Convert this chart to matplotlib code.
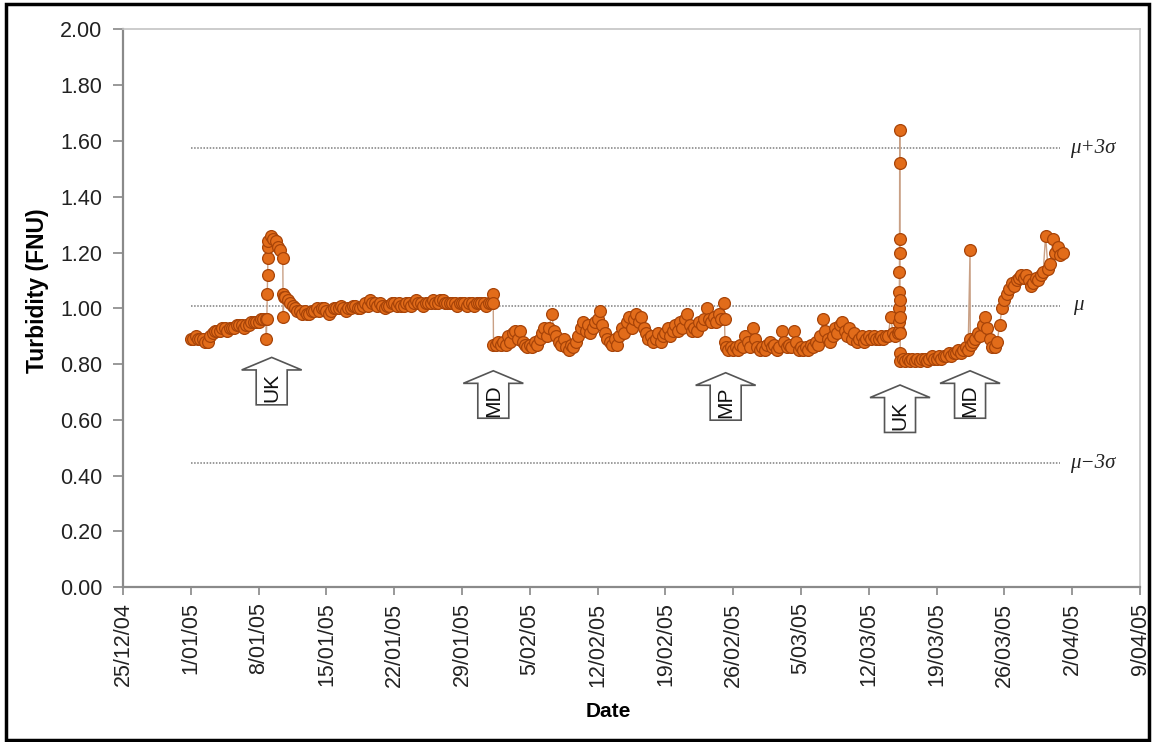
import numpy as np
import pandas as pd
import matplotlib
matplotlib.use('Agg')
import matplotlib.pyplot as plt
import matplotlib.dates as mdates
from matplotlib.patches import FancyArrow, Rectangle

plt.rcParams['font.family'] = ['Liberation Sans', 'DejaVu Sans']

# Turbidity readings (FNU), four per day (00h, 06h, 12h, 18h) from 1/01/05
first_day = '2005-01-01'
readings = [
    [0.89, 0.89, 0.90, 0.89], [0.89, 0.89, 0.88, 0.88], [0.90, 0.91, 0.92, 0.92],
    [0.92, 0.93, 0.93, 0.92], [0.93, 0.93, 0.93, 0.94], [0.94, 0.94, 0.93, 0.94],
    [0.94, 0.95, 0.95, 0.95], [0.95, 0.96, 0.96, 0.96], [1.24, 1.26, 1.25, 1.24],
    [1.22, 1.21, 1.18, 1.04], [1.03, 1.02, 1.01, 1.00], [0.99, 0.99, 0.98, 0.99],
    [0.98, 0.98, 0.99, 0.99], [1.00, 0.99, 1.00, 1.00], [0.99, 0.98, 0.99, 1.00],
    [1.00, 1.00, 1.01, 1.00], [0.99, 1.00, 1.00, 1.01], [1.01, 1.00, 1.00, 1.01],
    [1.02, 1.01, 1.03, 1.02], [1.02, 1.01, 1.02, 1.01], [1.00, 1.01, 1.01, 1.02],
    [1.02, 1.01, 1.02, 1.01], [1.01, 1.02, 1.02, 1.01], [1.02, 1.03, 1.02, 1.02],
    [1.01, 1.02, 1.02, 1.02], [1.03, 1.02, 1.02, 1.03], [1.03, 1.02, 1.02, 1.02],
    [1.02, 1.02, 1.01, 1.02], [1.02, 1.02, 1.01, 1.02], [1.02, 1.01, 1.02, 1.02],
    [1.02, 1.02, 1.01, 1.02], [1.02, 0.87, 0.87, 0.88], [0.87, 0.88, 0.87, 0.90],
    [0.88, 0.91, 0.92, 0.89], [0.92, 0.88, 0.87, 0.86], [0.87, 0.86, 0.88, 0.87],
    [0.89, 0.91, 0.93, 0.90], [0.93, 0.98, 0.92, 0.90], [0.88, 0.87, 0.89, 0.86],
    [0.85, 0.87, 0.86, 0.88], [0.90, 0.93, 0.95, 0.92], [0.94, 0.91, 0.93, 0.95],
    [0.96, 0.99, 0.94, 0.91], [0.89, 0.88, 0.87, 0.89], [0.87, 0.90, 0.93, 0.91],
    [0.95, 0.97, 0.93, 0.96], [0.98, 0.95, 0.97, 0.93], [0.91, 0.89, 0.90, 0.88],
    [0.89, 0.91, 0.88, 0.90], [0.91, 0.93, 0.90, 0.92], [0.94, 0.92, 0.95, 0.93],
    [0.96, 0.98, 0.94, 0.92], [0.93, 0.92, 0.95, 0.94], [0.96, 1.00, 0.96, 0.95],
    [0.97, 0.95, 0.98, 0.96], [1.02, 0.86, 0.85, 0.86], [0.85, 0.86, 0.85, 0.87],
    [0.86, 0.90, 0.88, 0.86], [0.93, 0.89, 0.86, 0.85], [0.86, 0.85, 0.87, 0.88],
    [0.86, 0.87, 0.85, 0.86], [0.92, 0.88, 0.86, 0.87], [0.86, 0.92, 0.88, 0.85],
    [0.86, 0.85, 0.86, 0.85], [0.87, 0.86, 0.88, 0.87], [0.90, 0.96, 0.92, 0.89],
    [0.88, 0.90, 0.93, 0.91], [0.94, 0.95, 0.92, 0.90], [0.93, 0.89, 0.91, 0.88],
    [0.89, 0.90, 0.88, 0.89], [0.90, 0.89, 0.90, 0.89], [0.89, 0.90, 0.89, 0.90],
    [0.90, 0.97, 0.91, 0.90], [0.91, 0.81, 0.82, 0.81], [0.82, 0.81, 0.82, 0.81],
    [0.82, 0.81, 0.82, 0.82], [0.81, 0.82, 0.83, 0.82], [0.82, 0.83, 0.82, 0.83],
    [0.83, 0.84, 0.83, 0.84], [0.84, 0.85, 0.84, 0.85], [0.86, 0.85, 0.87, 0.88],
    [0.89, 0.91, 0.90, 0.94], [0.97, 0.93, 0.89, 0.86], [0.86, 0.88, 0.94, 1.00],
    [1.03, 1.05, 1.07, 1.09], [1.08, 1.10, 1.11, 1.12], [1.11, 1.12, 1.10, 1.08],
    [1.09, 1.11, 1.10, 1.12], [1.13, 1.26, 1.14, 1.16], [1.25, 1.20, 1.22, 1.19],
    [1.20],
]

# extra readings logged during sudden changes (days after 1/01/05)
burst_days = [7.80, 7.85, 7.90, 7.93, 7.96, 7.98,
              9.52, 9.55, 9.60,
              31.20, 31.22,
              55.10, 55.15,
              73.10, 73.12, 73.14, 73.15, 73.16, 73.17, 73.18, 73.19,
              73.20, 73.21, 73.22, 73.23, 73.24,
              80.45, 80.47]
burst_values = [0.89, 0.96, 1.05, 1.12, 1.18, 1.22,
                1.05, 0.97, 1.04,
                1.05, 1.02,
                0.96, 0.88,
                0.92, 0.95, 1.00, 1.06, 1.13, 1.25, 1.52, 1.64,
                1.20, 1.03, 0.97, 0.91, 0.84,
                1.21, 0.89]

# control limits
mu = 1.009
sigma = 0.188

# operational events
event_labels = ['UK', 'MD', 'MP', 'UK', 'MD']
event_days = [8.35, 31.23, 55.22, 73.22, 80.45]

start = pd.Timestamp(first_day)
times = [start + pd.Timedelta(days=k + 0.25 * j)
         for k, row in enumerate(readings) for j in range(len(row))]
values = [v for row in readings for v in row]
times += [start + pd.Timedelta(days=d) for d in burst_days]
values += burst_values
df = pd.DataFrame({'time': times, 'fnu': values}).sort_values('time')

fig = plt.figure(figsize=(11.56, 7.42), dpi=100)
ax = fig.add_axes([0.1064, 0.2085, 0.8798, 0.752])

ax.plot(df['time'], df['fnu'], '-', color='#c9a085', lw=1.0, zorder=2)
ax.plot(df['time'], df['fnu'], 'o', ms=8.5, mfc='#e26c1a', mec='#a84408',
        mew=0.9, zorder=3)

# control limit lines
line_end = start + pd.Timedelta(days=89.75)
for level in (mu + 3 * sigma, mu, mu - 3 * sigma):
    ax.plot([start, line_end], [level, level], color='#9a9a9a', lw=1.4,
            ls=(0, (0.8, 0.8)), zorder=1)
lim_kw = dict(transform=ax.get_yaxis_transform(), ha='left', va='center',
              family='Liberation Serif', style='italic', fontsize=15, color='#222222')
ax.text(0.931, mu + 3 * sigma, '\u03bc+3\u03c3', **lim_kw)
ax.text(0.934, mu, '\u03bc', **lim_kw)
ax.text(0.931, mu - 3 * sigma, '\u03bc\u22123\u03c3', **lim_kw)

# event arrows
arrow_tips = [0.824, 0.776, 0.769, 0.725, 0.776]
arrow_len = 0.170
for lab, d, tip in zip(event_labels, event_days, arrow_tips):
    x = mdates.date2num(start + pd.Timedelta(days=d))
    ax.add_patch(FancyArrow(x, tip - arrow_len, 0, arrow_len, width=3.2,
                            head_width=6.2, head_length=0.045,
                            length_includes_head=True, fc='white',
                            ec='#555555', lw=1.2, zorder=4))
    ax.text(x, tip - arrow_len + (arrow_len - 0.045) / 2, lab, rotation=90,
            ha='center', va='center', fontsize=15, color='#111111', zorder=5)

# axes
ax.set_ylim(0, 2.0)
ax.set_yticks(np.arange(0, 2.01, 0.2))
ax.yaxis.set_major_formatter(matplotlib.ticker.FormatStrFormatter('%.2f'))
x_ticks = pd.date_range('2004-12-25', '2005-04-09', freq='7D')
ax.set_xlim(x_ticks[0], x_ticks[-1])
ax.set_xticks(x_ticks)
ax.set_xticklabels([f'{t.day}/{t:%m/%y}' for t in x_ticks], rotation=90)
ax.tick_params(axis='both', direction='out', color='#888888', labelsize=15.5,
               labelcolor='#222222')
ax.tick_params(axis='y', length=7, width=1.2, pad=8)
ax.tick_params(axis='x', length=6, width=1.2, pad=5)

for side in ('left', 'bottom'):
    ax.spines[side].set_color('#8a8a8a')
    ax.spines[side].set_linewidth(1.6)
for side in ('top', 'right'):
    ax.spines[side].set_color('#c4c4c4')
    ax.spines[side].set_linewidth(1.2)

ax.set_ylabel('Turbidity (FNU)', fontsize=16.5, fontweight='bold', va='center')
ax.yaxis.set_label_coords(-0.0836, 0.531)
ax.set_xlabel('Date', fontsize=15, fontweight='bold', va='center')
ax.xaxis.set_label_coords(0.477, -0.223)

# frame around the figure
fig.patches.append(Rectangle((0.005, 0.003), 0.989, 0.991, transform=fig.transFigure,
                             fill=False, ec='black', lw=2.5))

fig.savefig('out.png', dpi=100)
